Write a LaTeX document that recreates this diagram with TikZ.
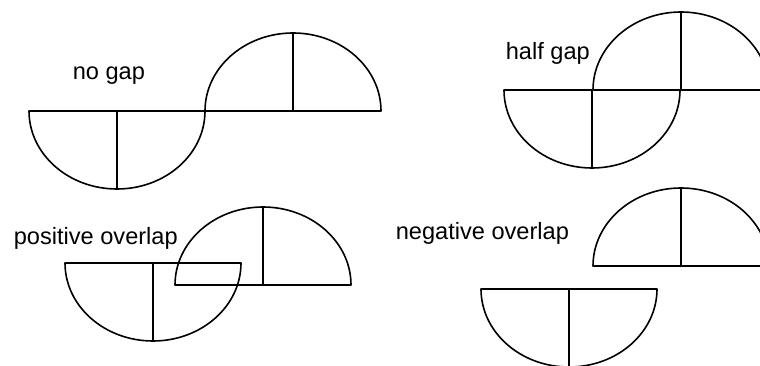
\documentclass[tikz,border=0pt]{standalone}
\usepackage{fontspec}
\setmainfont{Liberation Sans}
\usetikzlibrary{positioning}

\begin{document}
\begin{tikzpicture}[
  x=1pt, y=1pt,
  line width=1.6pt, line join=round,
  lbl/.style={anchor=base west, inner sep=0pt, font=\fontsize{23.6}{28}\selectfont},
  halfup/.pic={
    \draw (-88,0) -- (88,0) arc[start angle=0, end angle=180, x radius=88, y radius=78] -- cycle;
    \draw (0,0) -- (0,78);
  },
  halfdown/.pic={
    \draw (-88,0) -- (88,0) arc[start angle=0, end angle=-180, x radius=88, y radius=78] -- cycle;
    \draw (0,0) -- (0,-78);
  }
]
\useasboundingbox (0,0) rectangle (760,366);
\clip (0,0) rectangle (760,366);

% no gap
\node[lbl] (nogap) at (72,286) {no gap};
\pic at (117,255) {halfdown};
\pic at (293,255) {halfup};

% half gap
\node[lbl] (halfgap) at (505,306) {half gap};
\pic at (592,276) {halfdown};
\pic at (681,276) {halfup};

% positive overlap
\node[lbl] (posoverlap) at (13,121) {positive overlap};
\pic at (153,103) {halfdown};
\pic at (263,81) {halfup};

% negative overlap
\node[lbl] (negoverlap) at (395,126) {negative overlap};
\pic at (681,100) {halfup};
\pic at (569,77) {halfdown};

\end{tikzpicture}
\end{document}
